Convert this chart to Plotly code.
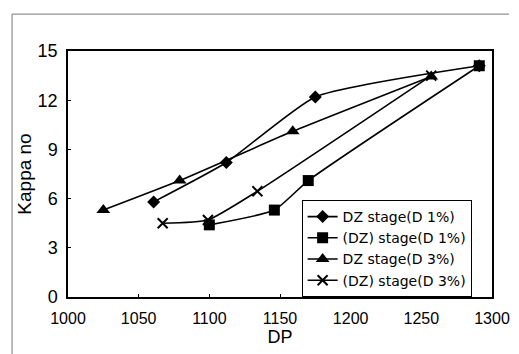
import plotly.graph_objects as go

# Data
dz1_x = [1060.6, 1112, 1175, 1291]
dz1_y = [5.8, 8.2, 12.2, 14.1]
pdz1_x = [1100, 1146, 1170, 1291]
pdz1_y = [4.4, 5.3, 7.1, 14.1]
dz3_x = [1025, 1079, 1159, 1257]
dz3_y = [5.3, 7.1, 10.1, 13.45]
pdz3_x = [1067, 1099, 1134, 1257]
pdz3_y = [4.5, 4.7, 6.45, 13.5]

names = ["DZ stage(D 1%)", "(DZ) stage(D 1%)", "DZ stage(D 3%)", "(DZ) stage(D 3%)"]

fig = go.Figure()
series = [
    (dz1_x, dz1_y, "diamond", 10, names[0]),
    (pdz1_x, pdz1_y, "square", 11, names[1]),
    (dz3_x, dz3_y, "triangle-up", 12, names[2]),
    (pdz3_x, pdz3_y, "x-thin", 10, names[3]),
]
for xs, ys, sym, sz, nm in series:
    fig.add_trace(go.Scatter(
        x=xs, y=ys, name=nm, mode="lines+markers",
        line=dict(color="black", width=1.6, shape="spline", smoothing=0.5),
        marker=dict(symbol=sym, size=sz, color="black",
                    line=dict(color="black", width=2 if sym == "x-thin" else 0)),
    ))

fig.update_layout(
    width=511, height=346,
    margin=dict(l=60, r=27, t=43, b=57, autoexpand=False),
    paper_bgcolor="white", plot_bgcolor="white",
    font=dict(family="Liberation Sans, Arial, sans-serif", color="black", size=18),
    showlegend=True,
    legend=dict(
        x=0.551, y=0.0, xanchor="left", yanchor="bottom",
        bgcolor="white", bordercolor="black", borderwidth=1,
        font=dict(family="DejaVu Sans, sans-serif", size=14),
        tracegroupgap=0,
    ),
    xaxis=dict(
        range=[1000, 1300], dtick=50, tick0=1000,
        showline=True, linecolor="black", linewidth=1.5, mirror=True,
        ticks="inside", ticklen=3, tickcolor="black",
        showgrid=False, zeroline=False, automargin=False,
        tickfont=dict(size=16), ticklabelstandoff=6,
        title=dict(text="DP", standoff=0, font=dict(size=18)),
    ),
    yaxis=dict(
        range=[0, 15], dtick=3, tick0=0,
        showline=True, linecolor="black", linewidth=1.5, mirror=True,
        ticks="inside", ticklen=3, tickcolor="black",
        showgrid=False, zeroline=False, automargin=False,
        tickfont=dict(size=18), ticklabelstandoff=5,
        title=dict(text="Kappa no", standoff=1, font=dict(size=19)),
    ),
    shapes=[
        dict(type="line", xref="paper", yref="paper",
             x0=-0.132, x1=1.04, y0=1.15, y1=1.15,
             line=dict(color="#777", width=1)),
        dict(type="line", xref="paper", yref="paper",
             x0=-0.132, x1=-0.132, y0=-0.26, y1=1.15,
             line=dict(color="#777", width=1)),
    ],
)

fig.write_html("out.html")
